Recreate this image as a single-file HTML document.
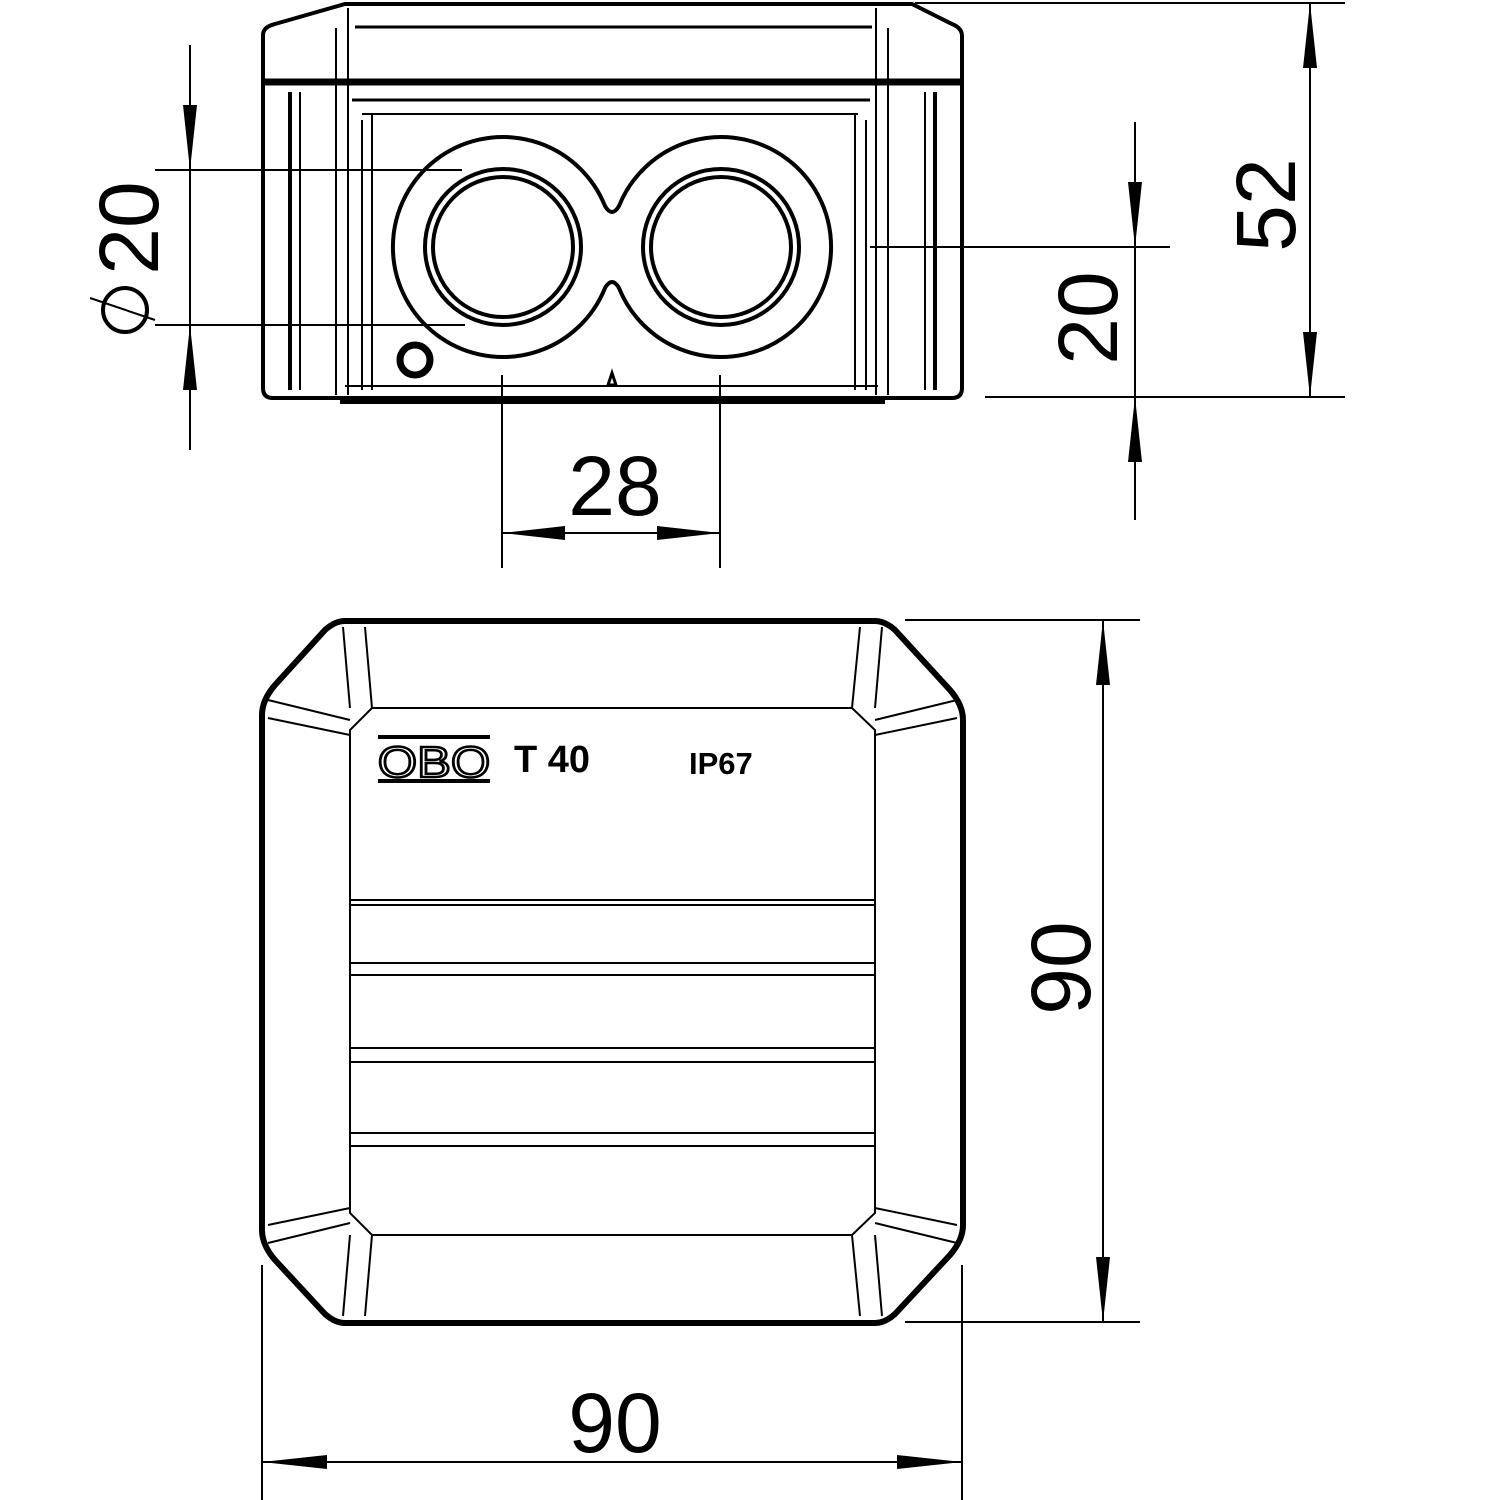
<!DOCTYPE html>
<html><head><style>html,body{margin:0;padding:0;background:#fff}svg{display:block}</style></head><body>
<svg width="1500" height="1500" viewBox="0 0 1500 1500" xmlns="http://www.w3.org/2000/svg" font-family="Liberation Sans, sans-serif">
<g fill="none" stroke="#000" stroke-width="2">
<path d="M263 82 L263 35 Q263 27 275 24 L345 4 L912 4 L952 24 Q962 28 962 36 L962 82" stroke-width="4"/>
<line x1="262" y1="82" x2="963" y2="82" stroke-width="7"/>
<path d="M263 82 L263 388 Q263 398 273 398 L952 398 Q962 398 962 388 L962 82" stroke-width="4"/>
<line x1="340" y1="402" x2="885" y2="402" stroke-width="4"/>
<line x1="336" y1="28" x2="336" y2="395"/><line x1="348" y1="8" x2="348" y2="395"/>
<line x1="888" y1="28" x2="888" y2="395"/><line x1="876" y1="8" x2="876" y2="395"/>
<line x1="355" y1="27" x2="872" y2="27" stroke-width="3"/>
<line x1="290" y1="92" x2="290" y2="390" stroke-width="4"/><line x1="300" y1="92" x2="300" y2="390"/>
<line x1="935" y1="92" x2="935" y2="390" stroke-width="4"/><line x1="925" y1="92" x2="925" y2="390"/>
<line x1="352" y1="100" x2="870" y2="100" stroke-width="3"/>
<line x1="362" y1="114" x2="858" y2="114"/>
<line x1="372" y1="114" x2="372" y2="390"/><line x1="855" y1="114" x2="855" y2="390"/>
<line x1="362" y1="120" x2="362" y2="390"/><line x1="866" y1="120" x2="866" y2="390"/>
<line x1="345" y1="386" x2="878" y2="386"/>
<path d="M605 206 A110 110 0 1 0 605 288 Q612 276 619 288 A110 110 0 1 0 619 206 Q612 218 605 206 Z" stroke-width="4"/>
<circle cx="503" cy="247" r="78" stroke-width="4"/><circle cx="503" cy="247" r="70" stroke-width="4"/>
<circle cx="721" cy="247" r="78" stroke-width="4"/><circle cx="721" cy="247" r="70" stroke-width="4"/>
<circle cx="415" cy="360" r="15" stroke-width="7"/>
<path d="M608 385 L612 373 L616 385 Z" stroke-width="3"/>
<line x1="155" y1="170" x2="462" y2="170"/><line x1="155" y1="325" x2="465" y2="325"/>
<line x1="190" y1="45" x2="190" y2="450"/>
<line x1="502" y1="375" x2="502" y2="568"/><line x1="720" y1="375" x2="720" y2="568"/>
<line x1="502" y1="533" x2="720" y2="533"/>
<line x1="870" y1="247" x2="1170" y2="247"/><line x1="985" y1="397" x2="1345" y2="397"/>
<line x1="1135" y1="122" x2="1135" y2="520"/>
<line x1="915" y1="3" x2="1345" y2="3"/>
<line x1="1310" y1="3" x2="1310" y2="397"/>
<path d="M345 621 L875 621 Q885 621 895 630 L950 690 Q963 705 963 720 L963 1225 Q963 1240 950 1255 L895 1314 Q885 1323 875 1323 L345 1323 Q335 1323 325 1314 L275 1260 Q262 1245 262 1230 L262 715 Q262 700 275 685 L325 630 Q335 621 345 621 Z" stroke-width="6"/>
<path d="M372 708 L852 708 L875 730 L875 1213 L852 1235 L372 1235 L350 1213 L350 730 Z"/>
<line x1="343" y1="627" x2="350" y2="708"/><line x1="365" y1="627" x2="372" y2="708"/>
<line x1="882" y1="627" x2="875" y2="708"/><line x1="860" y1="627" x2="852" y2="708"/>
<line x1="268" y1="700" x2="350" y2="720"/><line x1="268" y1="718" x2="350" y2="735"/>
<line x1="957" y1="700" x2="875" y2="720"/><line x1="957" y1="718" x2="875" y2="735"/>
<line x1="343" y1="1316" x2="350" y2="1235"/><line x1="365" y1="1316" x2="372" y2="1235"/>
<line x1="882" y1="1316" x2="875" y2="1235"/><line x1="860" y1="1316" x2="852" y2="1235"/>
<line x1="268" y1="1243" x2="350" y2="1223"/><line x1="268" y1="1225" x2="350" y2="1208"/>
<line x1="957" y1="1243" x2="875" y2="1223"/><line x1="957" y1="1225" x2="875" y2="1208"/>
<line x1="350" y1="900" x2="875" y2="900"/><line x1="350" y1="905" x2="875" y2="905"/>
<line x1="350" y1="963" x2="875" y2="963"/><line x1="350" y1="975" x2="875" y2="975"/>
<line x1="350" y1="1048" x2="875" y2="1048"/><line x1="350" y1="1062" x2="875" y2="1062"/>
<line x1="350" y1="1133" x2="875" y2="1133"/><line x1="350" y1="1146" x2="875" y2="1146"/>
<line x1="378" y1="737" x2="490" y2="737" stroke-width="4"/><line x1="378" y1="781" x2="490" y2="781" stroke-width="4"/>
<line x1="905" y1="620" x2="1140" y2="620"/><line x1="905" y1="1322" x2="1140" y2="1322"/>
<line x1="1103" y1="620" x2="1103" y2="1322"/>
<line x1="262" y1="1265" x2="262" y2="1500"/><line x1="962" y1="1265" x2="962" y2="1500"/>
<line x1="262" y1="1462" x2="962" y2="1462"/>
<line x1="90" y1="298" x2="155" y2="320"/>
</g>
<g fill="#000">
<path d="M190 170 L183 105 L197 105 Z"/><path d="M190 325 L183 390 L197 390 Z"/>
<path d="M502 533 L565 526 L565 540 Z"/><path d="M720 533 L657 526 L657 540 Z"/>
<path d="M1135 247 L1128 182 L1142 182 Z"/><path d="M1135 397 L1128 462 L1142 462 Z"/>
<path d="M1310 3 L1303 68 L1317 68 Z"/><path d="M1310 397 L1303 332 L1317 332 Z"/>
<path d="M1103 620 L1096 685 L1110 685 Z"/><path d="M1103 1322 L1096 1257 L1110 1257 Z"/>
<path d="M262 1462 L327 1455 L327 1469 Z"/><path d="M962 1462 L897 1455 L897 1469 Z"/>
</g>
<g font-size="84" text-anchor="middle" fill="#000">
<text x="615" y="515">28</text>
<text x="615" y="1452">90</text>
<text transform="translate(158,228) rotate(-90)">20</text>
<circle cx="125" cy="310" r="22" fill="none" stroke="#000" stroke-width="4"/>
<text transform="translate(1117,318) rotate(-90)">20</text>
<text transform="translate(1295,205) rotate(-90)">52</text>
<text transform="translate(1090,968) rotate(-90)">90</text>
</g>
<text transform="translate(434,777) scale(1.15,1)" font-size="44" text-anchor="middle" fill="none" stroke="#000" stroke-width="2.5">OBO</text>
<text x="514" y="772" font-size="38" font-weight="bold">T 40</text>
<text x="689" y="774" font-size="31" font-weight="bold">IP67</text>
</svg>
</body></html>
